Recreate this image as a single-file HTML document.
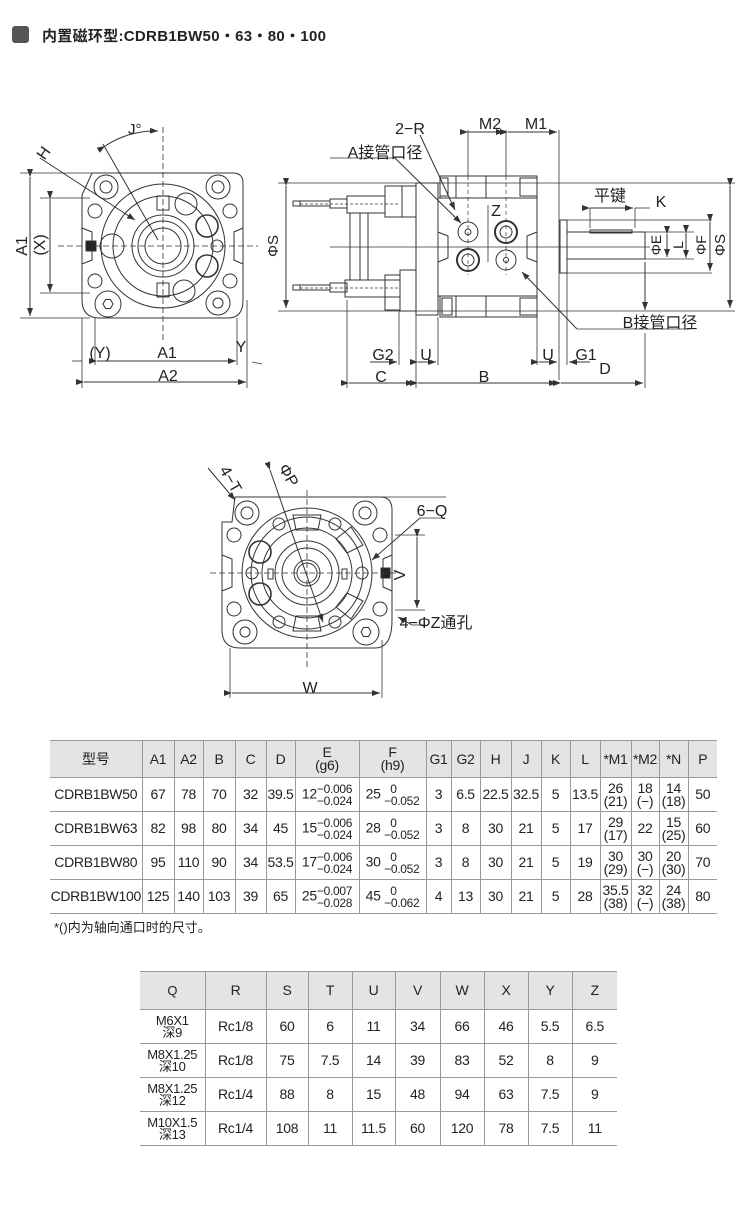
<!DOCTYPE html>
<html><head><meta charset="utf-8">
<style>
body{margin:0;width:750px;height:1207px;background:#fff;position:relative;overflow:hidden;font-family:"Liberation Sans","Noto Sans CJK SC",sans-serif;color:#222}
.t{position:absolute;left:12px;top:26px;width:17px;height:17px;background:#555;border-radius:3px}
.title{position:absolute;left:42px;top:25px;font-size:15px;font-weight:bold;color:#222;letter-spacing:0.3px}
svg{position:absolute;left:0;top:0}
table{position:absolute;border-collapse:collapse;table-layout:fixed;font-size:14px;color:#222;letter-spacing:-0.3px}
td{text-align:center;border-left:1px solid #999;border-bottom:1px solid #999;padding:0;line-height:13px;white-space:nowrap;overflow:visible}
td:first-child{border-left:none}
tr.h td{background:#e4e4e4}
.fr{display:inline-block;vertical-align:middle;font-size:12px;line-height:12px;text-align:left}
.st{display:inline-block;vertical-align:middle;line-height:13px}
.note{position:absolute;left:54px;top:917px;font-size:13px}
.q td:first-child{font-size:13px;line-height:12px}
</style></head><body>
<div class="t"></div>
<div class="title">内置磁环型:CDRB1BW50・63・80・100</div>

<svg width="750" height="720" viewBox="0 0 750 720" fill="none" stroke="#333" stroke-width="1" font-family="Liberation Sans, Noto Sans CJK SC, sans-serif">
<defs><marker id="a" markerWidth="8" markerHeight="6" refX="8" refY="3" orient="auto"><path d="M0,0 L8,3 L0,6z" fill="#333" stroke="none"/></marker></defs>
<!-- ===== Front view ===== -->
<path d="M92,173 L233,173 Q243,173 243,183 L243,300 Q243,318 228,318 L100,318 Q82,318 82,300 L82,195 L92,173Z"/>
<line x1="20" y1="173" x2="92" y2="173" stroke-width="0.8"/>
<line x1="20" y1="318" x2="90" y2="318" stroke-width="0.8"/>
<line x1="40" y1="198" x2="90" y2="198" stroke-width="0.8"/>
<line x1="40" y1="293" x2="90" y2="293" stroke-width="0.8"/>
<circle cx="163" cy="246" r="62"/><circle cx="163" cy="246" r="50"/><circle cx="163" cy="246" r="31"/><circle cx="163" cy="246" r="25"/><circle cx="163" cy="246" r="18"/>
<circle cx="106" cy="187" r="12"/><circle cx="106" cy="187" r="6"/>
<circle cx="218" cy="187" r="12"/><circle cx="218" cy="187" r="6"/>
<circle cx="108" cy="304" r="13"/><path d="M103,304 l2.5,-4.5 h5 l2.5,4.5 l-2.5,4.5 h-5z"/>
<circle cx="218" cy="303" r="12"/><circle cx="218" cy="303" r="5"/>
<circle cx="95" cy="211" r="7"/><circle cx="230" cy="211" r="7"/><circle cx="95" cy="281" r="7"/><circle cx="230" cy="281" r="7"/>
<circle cx="112" cy="246" r="12"/><circle cx="186" cy="204" r="11"/><circle cx="184" cy="291" r="11"/>
<circle cx="207" cy="226" r="11" stroke-width="1.6"/><circle cx="207" cy="266" r="11" stroke-width="1.6"/><circle cx="217" cy="246" r="6"/>
<rect x="157" y="196" width="12" height="14"/><rect x="157" y="283" width="12" height="14"/>
<rect x="86" y="241" width="10" height="10" fill="#222"/>
<path d="M82,228 L92,232 L92,260 L82,264 M243,228 L234,232 L234,260 L243,264"/>
<line x1="58" y1="246" x2="258" y2="246" stroke-dasharray="6,3" stroke-width="0.8"/>
<line x1="163" y1="127" x2="163" y2="340" stroke-dasharray="6,3" stroke-width="0.8"/>
<line x1="30" y1="177" x2="30" y2="316" marker-start="url(#a)" marker-end="url(#a)"/>
<line x1="50" y1="199" x2="50" y2="292" marker-start="url(#a)" marker-end="url(#a)"/>
<line x1="40" y1="158" x2="135" y2="220" marker-end="url(#a)"/>
<line x1="103" y1="144" x2="158" y2="240"/>
<path d="M105,146 Q130,130 158,131" marker-start="url(#a)" marker-end="url(#a)"/>
<line x1="82" y1="318" x2="82" y2="388" stroke-width="0.8"/><line x1="95" y1="318" x2="95" y2="365" stroke-width="0.8"/>
<line x1="237" y1="318" x2="237" y2="365" stroke-width="0.8"/><line x1="247" y1="300" x2="247" y2="388" stroke-width="0.8"/>
<line x1="72" y1="361" x2="82" y2="361" stroke-width="0.8"/>
<line x1="97" y1="361" x2="236" y2="361" marker-start="url(#a)" marker-end="url(#a)"/>
<line x1="84" y1="382" x2="246" y2="382" marker-start="url(#a)" marker-end="url(#a)"/>
<line x1="252" y1="362" x2="262" y2="364" stroke-width="0.8"/>
<g fill="#222" stroke="none" font-size="16">
<text x="100" y="358" text-anchor="middle">(Y)</text>
<text x="167" y="358" text-anchor="middle">A1</text>
<text x="241" y="352" text-anchor="middle">Y</text>
<text x="168" y="381" text-anchor="middle">A2</text>
<text transform="translate(27,246) rotate(-90)" text-anchor="middle">A1</text>
<text transform="translate(45,245) rotate(-90)" text-anchor="middle">(X)</text>
<text transform="translate(48,156) rotate(-55)" text-anchor="middle">H</text>
<text x="128" y="134" font-size="15">J°</text>
</g>

<!-- ===== Side view ===== -->
<line x1="278" y1="183" x2="735" y2="183" stroke-width="0.8"/>
<line x1="278" y1="311" x2="735" y2="311" stroke-width="0.8"/>
<line x1="286" y1="186" x2="286" y2="308" marker-start="url(#a)" marker-end="url(#a)"/>
<line x1="730" y1="186" x2="730" y2="308" marker-start="url(#a)" marker-end="url(#a)"/>
<rect x="438" y="198" width="99" height="98"/>
<rect x="440" y="176" width="97" height="22"/><rect x="456" y="176" width="30" height="22"/><line x1="486" y1="176" x2="486" y2="198"/><rect x="520" y="178" width="17" height="18"/><rect x="440" y="178" width="8" height="18"/>
<rect x="440" y="296" width="97" height="21"/><rect x="456" y="296" width="30" height="21"/><line x1="486" y1="296" x2="486" y2="317"/><rect x="520" y="298" width="17" height="17"/><rect x="442" y="298" width="10" height="17"/>
<rect x="416" y="183" width="22" height="132"/>
<rect x="402" y="186" width="14" height="31"/><rect x="400" y="270" width="16" height="41"/>
<path d="M385,186 h17 v31 h-17z M385,275 h15 v35 h-15z"/>
<rect x="347" y="196" width="38" height="17"/><rect x="345" y="280" width="55" height="17"/>
<rect x="350" y="213" width="18" height="67"/><line x1="360" y1="213" x2="360" y2="280"/>
<rect x="330" y="199" width="17" height="9"/><rect x="300" y="201" width="30" height="5"/><rect x="293" y="201" width="7" height="5"/>
<rect x="330" y="283" width="17" height="9"/><rect x="300" y="285" width="30" height="5"/><rect x="293" y="285" width="7" height="5"/>
<line x1="300" y1="204" x2="400" y2="204" stroke-dasharray="3,2" stroke-width="0.7"/>
<line x1="300" y1="288" x2="400" y2="288" stroke-dasharray="3,2" stroke-width="0.7"/>
<line x1="330" y1="247" x2="650" y2="247" stroke-width="0.8"/>
<circle cx="468" cy="232" r="10"/><circle cx="468" cy="232" r="3"/>
<circle cx="506" cy="232" r="11" stroke-width="2"/><circle cx="506" cy="232" r="6"/>
<circle cx="468" cy="260" r="11" stroke-width="2"/><circle cx="468" cy="260" r="6"/>
<circle cx="506" cy="260" r="10"/><circle cx="506" cy="260" r="2.5"/>
<path d="M438,232 L448,236 L448,258 L438,262 M537,232 L527,236 L527,258 L537,262"/>
<line x1="468" y1="176" x2="468" y2="275" stroke-dasharray="4,3" stroke-width="0.7"/>
<line x1="506" y1="176" x2="506" y2="275" stroke-dasharray="4,3" stroke-width="0.7"/>
<line x1="488" y1="205" x2="488" y2="262" stroke-width="0.8"/>
<rect x="560" y="220" width="7" height="53"/><rect x="567" y="232" width="78" height="27"/><rect x="590" y="230" width="42" height="3"/>
<line x1="567" y1="220" x2="712" y2="220" stroke-width="0.8"/><line x1="567" y1="273" x2="712" y2="273" stroke-width="0.8"/>
<line x1="640" y1="232" x2="694" y2="232" stroke-width="0.8"/><line x1="645" y1="259" x2="694" y2="259" stroke-width="0.8"/>
<line x1="710" y1="222" x2="710" y2="271" marker-start="url(#a)" marker-end="url(#a)"/>
<line x1="667" y1="234" x2="667" y2="257" marker-start="url(#a)" marker-end="url(#a)"/>
<line x1="686" y1="233" x2="686" y2="258" marker-start="url(#a)" marker-end="url(#a)"/>
<line x1="590" y1="208" x2="590" y2="228" stroke-width="0.8"/><line x1="635" y1="208" x2="635" y2="228" stroke-width="0.8"/>
<line x1="590" y1="208" x2="633" y2="208" marker-start="url(#a)" marker-end="url(#a)"/><line x1="635" y1="208" x2="650" y2="208" stroke-width="0.8"/>
<line x1="645" y1="262" x2="645" y2="310" marker-end="url(#a)"/>
<line x1="645" y1="333" x2="645" y2="388" stroke-width="0.8"/>
<line x1="577" y1="329" x2="522" y2="272" marker-end="url(#a)"/><line x1="577" y1="329" x2="690" y2="329" stroke-width="0.8"/>
<line x1="330" y1="158" x2="395" y2="158" stroke-width="0.8"/><line x1="395" y1="158" x2="461" y2="223" marker-end="url(#a)"/>
<line x1="420" y1="135" x2="455" y2="210" marker-end="url(#a)"/>
<line x1="468" y1="130" x2="468" y2="176" stroke-width="0.8"/><line x1="506" y1="130" x2="506" y2="176" stroke-width="0.8"/><line x1="559" y1="130" x2="559" y2="380" stroke-width="0.8"/>
<line x1="468" y1="132" x2="504" y2="132" marker-start="url(#a)" marker-end="url(#a)"/>
<line x1="508" y1="132" x2="557" y2="132" marker-start="url(#a)" marker-end="url(#a)"/>
<line x1="347" y1="300" x2="347" y2="388" stroke-width="0.8"/><line x1="399" y1="311" x2="399" y2="365" stroke-width="0.8"/><line x1="416" y1="315" x2="416" y2="388" stroke-width="0.8"/><line x1="438" y1="317" x2="438" y2="365" stroke-width="0.8"/>
<line x1="537" y1="317" x2="537" y2="365" stroke-width="0.8"/><line x1="567" y1="273" x2="567" y2="365" stroke-width="0.8"/>
<line x1="370" y1="362" x2="397" y2="362" marker-end="url(#a)"/><line x1="418" y1="362" x2="436" y2="362" marker-start="url(#a)" marker-end="url(#a)"/>
<line x1="539" y1="362" x2="557" y2="362" marker-start="url(#a)" marker-end="url(#a)"/><line x1="590" y1="362" x2="569" y2="362" marker-end="url(#a)"/>
<line x1="349" y1="383" x2="414" y2="383" marker-start="url(#a)" marker-end="url(#a)"/>
<line x1="418" y1="383" x2="557" y2="383" marker-start="url(#a)" marker-end="url(#a)"/>
<line x1="561" y1="383" x2="643" y2="383" marker-start="url(#a)" marker-end="url(#a)"/>
<g fill="#222" stroke="none" font-size="16">
<text x="410" y="134" text-anchor="middle">2−R</text>
<text x="385" y="158" text-anchor="middle">A接管口径</text>
<text x="490" y="129" text-anchor="middle">M2</text>
<text x="536" y="129" text-anchor="middle">M1</text>
<text x="496" y="216" text-anchor="middle">Z</text>
<text x="610" y="201" text-anchor="middle">平键</text>
<text x="661" y="207" text-anchor="middle">K</text>
<text transform="translate(661,245) rotate(-90)" text-anchor="middle" font-size="14">ΦE</text>
<text transform="translate(683,245) rotate(-90)" text-anchor="middle" font-size="14">L</text>
<text transform="translate(706,245) rotate(-90)" text-anchor="middle" font-size="14">ΦF</text>
<text transform="translate(730,245) rotate(-90)" text-anchor="middle" font-size="15" dy="-5">ΦS</text>
<text transform="translate(278,246) rotate(-90)" text-anchor="middle" font-size="15">ΦS</text>
<text x="660" y="328" text-anchor="middle">B接管口径</text>
<text x="383" y="360" text-anchor="middle">G2</text>
<text x="426" y="360" text-anchor="middle">U</text>
<text x="548" y="360" text-anchor="middle">U</text>
<text x="586" y="360" text-anchor="middle">G1</text>
<text x="605" y="374" text-anchor="middle">D</text>
<text x="381" y="382" text-anchor="middle">C</text>
<text x="484" y="382" text-anchor="middle">B</text>
</g>

<!-- ===== Bottom view ===== -->
<path d="M235,497 L380,497 Q392,497 392,510 L392,620 Q392,648 375,648 L240,648 Q222,648 222,630 L222,522 L232,522 L235,497Z"/>
<line x1="380" y1="497" x2="446" y2="497" stroke-width="0.8"/>
<circle cx="307" cy="573" r="65"/><circle cx="307" cy="573" r="56"/><circle cx="307" cy="573" r="45"/><circle cx="307" cy="573" r="32"/><circle cx="307" cy="573" r="25"/><circle cx="307" cy="573" r="13"/><circle cx="307" cy="573" r="10"/>
<circle cx="247" cy="513" r="12"/><circle cx="247" cy="513" r="6"/>
<circle cx="365" cy="513" r="12"/><circle cx="365" cy="513" r="6"/>
<circle cx="245" cy="632" r="12"/><circle cx="245" cy="632" r="5"/>
<circle cx="366" cy="632" r="13"/><path d="M361,632 l2.5,-4.5 h5 l2.5,4.5 l-2.5,4.5 h-5z"/>
<circle cx="234" cy="535" r="7"/><circle cx="380" cy="535" r="7"/><circle cx="234" cy="609" r="7"/><circle cx="380" cy="609" r="7"/>
<circle cx="279" cy="524" r="6"/><circle cx="335" cy="524" r="6"/><circle cx="279" cy="622" r="6"/><circle cx="335" cy="622" r="6"/><circle cx="252" cy="573" r="6"/><circle cx="362" cy="573" r="6"/>
<circle cx="260" cy="552" r="11" stroke-width="1.6"/><circle cx="260" cy="594" r="11" stroke-width="1.6"/>
<path d="M293,515 h28 l-3,15 h-22z M293,631 h28 l-3,-15 h-22z"/>
<path d="M336,539 l15,-12 l12,18 l-16,8z M336,607 l15,12 l12,-18 l-16,-8z"/>
<rect x="268" y="569" width="5" height="10"/><rect x="342" y="569" width="5" height="10"/>
<rect x="381" y="568" width="9" height="10" fill="#222"/>
<path d="M222,555 L232,559 L232,587 L222,591 M392,555 L383,559 L383,587 L392,591"/>
<line x1="210" y1="573" x2="400" y2="573" stroke-dasharray="6,3" stroke-width="0.8"/>
<line x1="307" y1="490" x2="307" y2="668" stroke-dasharray="6,3" stroke-width="0.8"/>
<line x1="270" y1="470" x2="323" y2="622" marker-start="url(#a)" marker-end="url(#a)"/>
<line x1="208" y1="468" x2="235" y2="500" marker-end="url(#a)"/>
<line x1="420" y1="518" x2="445" y2="518" stroke-width="0.8"/><line x1="420" y1="518" x2="372" y2="560" marker-end="url(#a)"/>
<line x1="395" y1="535" x2="425" y2="535" stroke-width="0.8"/><line x1="395" y1="610" x2="425" y2="610" stroke-width="0.8"/>
<line x1="417" y1="537" x2="417" y2="608" marker-start="url(#a)" marker-end="url(#a)"/>
<line x1="412" y1="625" x2="398" y2="617" marker-end="url(#a)"/><line x1="412" y1="625" x2="425" y2="625" stroke-width="0.8"/>
<line x1="230" y1="648" x2="230" y2="698" stroke-width="0.8"/><line x1="382" y1="640" x2="382" y2="698" stroke-width="0.8"/>
<line x1="232" y1="693" x2="380" y2="693" marker-start="url(#a)" marker-end="url(#a)"/>
<g fill="#222" stroke="none" font-size="16">
<text transform="translate(226,482) rotate(60)" text-anchor="middle">4−T</text>
<text transform="translate(284,478) rotate(60)" text-anchor="middle">ΦP</text>
<text x="432" y="516" text-anchor="middle">6−Q</text>
<text transform="translate(405,575) rotate(-90)" text-anchor="middle">V</text>
<text x="436" y="628" text-anchor="middle">4−ΦZ通孔</text>
<text x="310" y="693" text-anchor="middle">W</text>
</g>
</svg>

<table style="left:50px;top:740px;width:667px;border-top:1px solid #999">
<colgroup><col style="width:92px"><col style="width:32px"><col style="width:29px"><col style="width:32px"><col style="width:31px"><col style="width:29px"><col style="width:64px"><col style="width:67px"><col style="width:25px"><col style="width:29px"><col style="width:31px"><col style="width:30px"><col style="width:29px"><col style="width:30px"><col style="width:31px"><col style="width:28px"><col style="width:29px"><col style="width:29px"></colgroup>
<tr class="h" style="height:37px"><td>型号</td><td>A1</td><td>A2</td><td>B</td><td>C</td><td>D</td><td>E<br>(g6)</td><td>F<br>(h9)</td><td>G1</td><td>G2</td><td>H</td><td>J</td><td>K</td><td>L</td><td>*M1</td><td>*M2</td><td>*N</td><td>P</td></tr>
<tr style="height:34px"><td>CDRB1BW50</td><td>67</td><td>78</td><td>70</td><td>32</td><td>39.5</td><td>12<span class="fr">−0.006<br>−0.024</span></td><td>25 <span class="fr">&nbsp;&nbsp;0<br>−0.052</span></td><td>3</td><td>6.5</td><td>22.5</td><td>32.5</td><td>5</td><td>13.5</td><td><span class="st">26<br>(21)</span></td><td><span class="st">18<br>(−)</span></td><td><span class="st">14<br>(18)</span></td><td>50</td></tr>
<tr style="height:34px"><td>CDRB1BW63</td><td>82</td><td>98</td><td>80</td><td>34</td><td>45</td><td>15<span class="fr">−0.006<br>−0.024</span></td><td>28 <span class="fr">&nbsp;&nbsp;0<br>−0.052</span></td><td>3</td><td>8</td><td>30</td><td>21</td><td>5</td><td>17</td><td><span class="st">29<br>(17)</span></td><td>22</td><td><span class="st">15<br>(25)</span></td><td>60</td></tr>
<tr style="height:34px"><td>CDRB1BW80</td><td>95</td><td>110</td><td>90</td><td>34</td><td>53.5</td><td>17<span class="fr">−0.006<br>−0.024</span></td><td>30 <span class="fr">&nbsp;&nbsp;0<br>−0.052</span></td><td>3</td><td>8</td><td>30</td><td>21</td><td>5</td><td>19</td><td><span class="st">30<br>(29)</span></td><td><span class="st">30<br>(−)</span></td><td><span class="st">20<br>(30)</span></td><td>70</td></tr>
<tr style="height:34px"><td>CDRB1BW100</td><td>125</td><td>140</td><td>103</td><td>39</td><td>65</td><td>25<span class="fr">−0.007<br>−0.028</span></td><td>45 <span class="fr">&nbsp;&nbsp;0<br>−0.062</span></td><td>4</td><td>13</td><td>30</td><td>21</td><td>5</td><td>28</td><td><span class="st">35.5<br>(38)</span></td><td><span class="st">32<br>(−)</span></td><td><span class="st">24<br>(38)</span></td><td>80</td></tr>
</table>
<div class="note">*()内为轴向通口时的尺寸。</div>

<table class="q" style="left:140px;top:971px;width:477px;border-top:1px solid #999">
<colgroup><col style="width:65px"><col style="width:61px"><col style="width:42px"><col style="width:44px"><col style="width:43px"><col style="width:45px"><col style="width:44px"><col style="width:44px"><col style="width:44px"><col style="width:45px"></colgroup>
<tr class="h" style="height:38px"><td>Q</td><td>R</td><td>S</td><td>T</td><td>U</td><td>V</td><td>W</td><td>X</td><td>Y</td><td>Z</td></tr>
<tr style="height:34px"><td>M6X1<br>深9</td><td>Rc1/8</td><td>60</td><td>6</td><td>11</td><td>34</td><td>66</td><td>46</td><td>5.5</td><td>6.5</td></tr>
<tr style="height:34px"><td>M8X1.25<br>深10</td><td>Rc1/8</td><td>75</td><td>7.5</td><td>14</td><td>39</td><td>83</td><td>52</td><td>8</td><td>9</td></tr>
<tr style="height:34px"><td>M8X1.25<br>深12</td><td>Rc1/4</td><td>88</td><td>8</td><td>15</td><td>48</td><td>94</td><td>63</td><td>7.5</td><td>9</td></tr>
<tr style="height:34px"><td>M10X1.5<br>深13</td><td>Rc1/4</td><td>108</td><td>11</td><td>11.5</td><td>60</td><td>120</td><td>78</td><td>7.5</td><td>11</td></tr>
</table>
</body></html>
